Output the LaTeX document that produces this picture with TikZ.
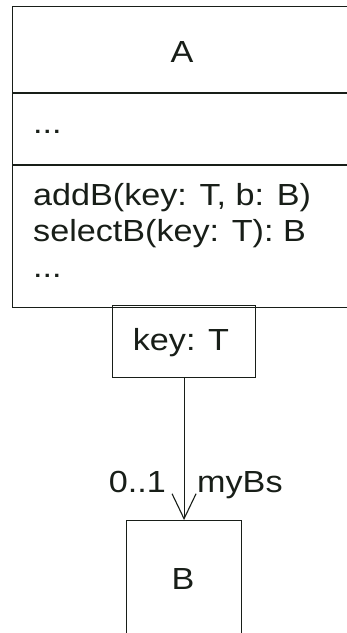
\documentclass[tikz,border=0pt]{standalone}
\usepackage{fontspec}
\usepackage{graphicx}
\setmainfont{Liberation Sans}
\usetikzlibrary{arrows.meta}
\definecolor{ink}{RGB}{24,30,24}
\newcommand{\hs}[1]{\scalebox{1.12}[1]{#1}}
\tikzset{
  umlbox/.style={draw=ink, line width=1.1pt, rectangle, inner sep=0pt, anchor=north west},
  lbl/.style={text=ink, inner sep=0pt, font=\fontsize{30.5}{36}\selectfont},
}
\begin{document}
\begin{tikzpicture}[x=1pt, y=-1pt]
\clip (0,0) rectangle (347,633);
\fill[white] (0,0) rectangle (347,633);
% class A
\node[umlbox, minimum width=360pt, minimum height=86.5pt] (Aname) at (12,5.5) {};
\node[umlbox, minimum width=360pt, minimum height=71pt] (Aattr) at (Aname.south west) {};
\node[umlbox, minimum width=360pt, minimum height=142pt] (Aops) at (Aattr.south west) {};
% qualifier
\node[umlbox, minimum width=143pt, minimum height=72pt] (key) at (112,305) {};
% class B
\node[umlbox, minimum width=115pt, minimum height=200pt] (B) at (126,520) {};
% association
\draw[draw=ink, line width=1.1pt, -{Straight Barb[length=25pt,width=24pt,line width=1.1pt]}] (key.south) -- (B.north);
% texts
\node[lbl, anchor=base] (tA) at (182,62) {\hs{A}};
\node[lbl, anchor=base west] (tattr) at (33,133) {\hs{...}};
\node[lbl, anchor=base west] (top1) at (33,205) {\hs{addB(key: T, b: B)}};
\node[lbl, anchor=base west] (top2) at (33,241) {\hs{selectB(key: T): B}};
\node[lbl, anchor=base west] (top3) at (33,277) {\hs{...}};
\node[lbl, anchor=base] (tkey) at (181,350) {\hs{key: T}};
\node[lbl, anchor=base east] (tmult) at (166,492) {\hs{0..1}};
\node[lbl, anchor=base west] (trole) at (197,492) {\hs{myBs}};
\node[lbl, anchor=base] (tB) at (183,589) {\hs{B}};
\end{tikzpicture}
\end{document}
